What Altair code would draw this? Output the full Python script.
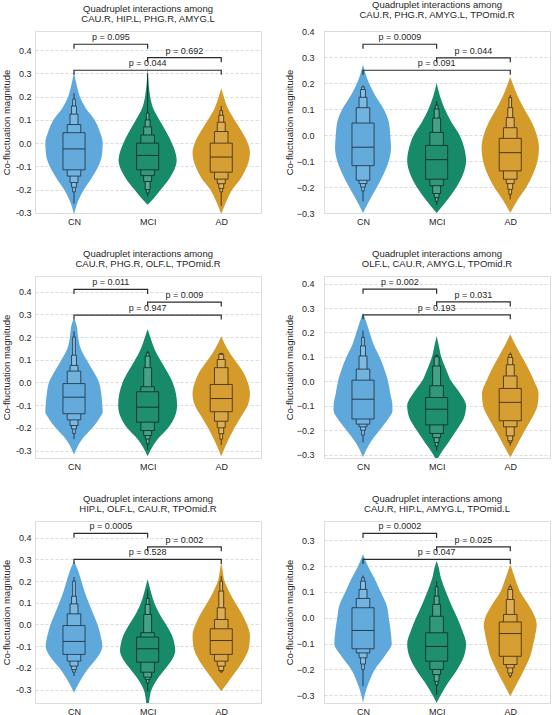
import altair as alt
import pandas as pd

GROUPS = ["CN", "MCI", "AD"]
COLORS = ["#5ea8db", "#178a69", "#d49a2a"]
LINE_COLORS = ["#223c4f", "#0e3328", "#4a3512"]

TITLES = [
    ["Quadruplet interactions among", "CAU.R, HIP.L, PHG.R, AMYG.L"],
    ["Quadruplet interactions among", "CAU.R, PHG.R, AMYG.L, TPOmid.R"],
    ["Quadruplet interactions among", "CAU.R, PHG.R, OLF.L, TPOmid.R"],
    ["Quadruplet interactions among", "OLF.L, CAU.R, AMYG.L, TPOmid.R"],
    ["Quadruplet interactions among", "HIP.L, OLF.L, CAU.R, TPOmid.R"],
    ["Quadruplet interactions among", "CAU.R, HIP.L, AMYG.L, TPOmid.L"],
]
P_VALUES = [
    ["0.095", "0.692", "0.044"],
    ["0.0009", "0.044", "0.091"],
    ["0.011", "0.009", "0.947"],
    ["0.002", "0.031", "0.193"],
    ["0.0005", "0.002", "0.528"],
    ["0.0002", "0.025", "0.047"],
]
PAIRS = [(0, 1), (1, 2), (0, 2)]
BRACKET_Y = [
    [0.426, 0.368, 0.314],
    [0.349, 0.297, 0.249],
    [0.410, 0.354, 0.297],
    [0.377, 0.325, 0.272],
    [0.420, 0.358, 0.300],
    [0.327, 0.275, 0.226],
]
Y_DOMAIN = [
    [-0.301, 0.483],
    [-0.300, 0.400],
    [-0.333, 0.469],
    [-0.3135, 0.431],
    [-0.362, 0.477],
    [-0.330, 0.375],
]

# violin outlines: value levels and half-widths (category units)
VIOLIN_Y = [
    [
        [-0.306, -0.25, -0.2, -0.15, -0.1, -0.05, 0.0, 0.05, 0.1, 0.15, 0.2, 0.25, 0.305],
        [-0.265, -0.235, -0.2, -0.15, -0.1, -0.075, -0.05, 0.0, 0.05, 0.1, 0.15, 0.2, 0.25, 0.33],
        [-0.305, -0.25, -0.2, -0.15, -0.1, -0.04, 0.0, 0.05, 0.1, 0.15, 0.2, 0.236],
    ],
    [
        [-0.3, -0.25, -0.2, -0.15, -0.1, -0.05, 0.0, 0.05, 0.1, 0.15, 0.2, 0.27],
        [-0.3, -0.25, -0.2, -0.15, -0.1, -0.05, 0.0, 0.05, 0.1, 0.15, 0.2],
        [-0.3, -0.25, -0.2, -0.15, -0.1, -0.05, 0.0, 0.05, 0.1, 0.15, 0.2, 0.223],
    ],
    [
        [-0.318, -0.25, -0.2, -0.15, -0.13, -0.1, -0.05, 0.0, 0.05, 0.1, 0.15, 0.2, 0.25, 0.285],
        [-0.325, -0.25, -0.2, -0.15, -0.1, -0.05, 0.0, 0.05, 0.1, 0.15, 0.2, 0.234],
        [-0.325, -0.25, -0.2, -0.15, -0.1, -0.05, 0.0, 0.05, 0.1, 0.15, 0.204],
    ],
    [
        [-0.31, -0.25, -0.2, -0.15, -0.12, -0.1, -0.05, 0.0, 0.05, 0.1, 0.15, 0.2, 0.25, 0.281],
        [-0.314, -0.3, -0.25, -0.2, -0.15, -0.1, -0.05, 0.0, 0.05, 0.1, 0.15, 0.186],
        [-0.31, -0.3, -0.25, -0.2, -0.15, -0.1, -0.05, 0.0, 0.05, 0.1, 0.15, 0.193],
    ],
    [
        [-0.315, -0.3, -0.25, -0.2, -0.15, -0.1, -0.05, 0.0, 0.05, 0.1, 0.15, 0.2, 0.25, 0.292],
        [-0.362, -0.3, -0.25, -0.2, -0.15, -0.12, -0.1, -0.05, 0.0, 0.05, 0.1, 0.15, 0.208],
        [-0.308, -0.3, -0.25, -0.2, -0.15, -0.1, -0.05, 0.0, 0.05, 0.1, 0.15, 0.2, 0.25, 0.285],
    ],
    [
        [-0.33, -0.3, -0.25, -0.2, -0.15, -0.1, -0.05, 0.0, 0.05, 0.1, 0.15, 0.2, 0.246],
        [-0.33, -0.3, -0.25, -0.2, -0.15, -0.1, -0.05, 0.0, 0.05, 0.1, 0.15, 0.2, 0.22],
        [-0.304, -0.25, -0.2, -0.15, -0.1, -0.05, -0.03, 0.0, 0.05, 0.1, 0.15, 0.207],
    ],
]
VIOLIN_W = [
    [
        [0, 0.055, 0.135, 0.24, 0.33, 0.38, 0.39, 0.35, 0.28, 0.16, 0.08, 0.036, 0],
        [0, 0.09, 0.18, 0.3, 0.38, 0.395, 0.385, 0.33, 0.25, 0.16, 0.075, 0.035, 0.015, 0],
        [0, 0.07, 0.15, 0.27, 0.35, 0.39, 0.36, 0.28, 0.18, 0.09, 0.035, 0],
    ],
    [
        [0, 0.09, 0.19, 0.28, 0.35, 0.38, 0.37, 0.35, 0.28, 0.17, 0.08, 0],
        [0, 0.145, 0.27, 0.36, 0.4, 0.375, 0.31, 0.2, 0.11, 0.045, 0],
        [0, 0.1, 0.22, 0.31, 0.37, 0.39, 0.36, 0.29, 0.19, 0.1, 0.03, 0],
    ],
    [
        [0, 0.11, 0.25, 0.36, 0.39, 0.385, 0.37, 0.34, 0.26, 0.17, 0.09, 0.055, 0.036, 0],
        [0, 0.135, 0.28, 0.37, 0.4, 0.385, 0.34, 0.26, 0.17, 0.09, 0.036, 0],
        [0, 0.1, 0.18, 0.27, 0.36, 0.39, 0.36, 0.29, 0.18, 0.08, 0],
    ],
    [
        [0, 0.1, 0.225, 0.35, 0.4, 0.4, 0.37, 0.34, 0.29, 0.225, 0.145, 0.09, 0.036, 0],
        [0.02, 0.045, 0.16, 0.27, 0.37, 0.4, 0.32, 0.2, 0.127, 0.063, 0.027, 0],
        [0, 0.02, 0.11, 0.2, 0.295, 0.37, 0.385, 0.325, 0.25, 0.16, 0.068, 0],
    ],
    [
        [0, 0.02, 0.1, 0.2, 0.32, 0.385, 0.36, 0.32, 0.26, 0.2, 0.145, 0.1, 0.054, 0],
        [0.02, 0.054, 0.135, 0.25, 0.35, 0.375, 0.37, 0.33, 0.25, 0.16, 0.09, 0.045, 0],
        [0, 0.018, 0.125, 0.235, 0.325, 0.38, 0.39, 0.35, 0.28, 0.19, 0.11, 0.045, 0.018, 0],
    ],
    [
        [0, 0.022, 0.08, 0.16, 0.29, 0.39, 0.375, 0.35, 0.32, 0.24, 0.16, 0.068, 0],
        [0, 0.054, 0.16, 0.28, 0.37, 0.4, 0.35, 0.28, 0.2, 0.127, 0.063, 0.023, 0],
        [0, 0.1, 0.19, 0.27, 0.315, 0.35, 0.36, 0.34, 0.25, 0.135, 0.068, 0],
    ],
]

# letter-value (boxen) statistics
MEDIANS = [
    [-0.025, -0.053, -0.060],
    [-0.047, -0.095, -0.068],
    [-0.065, -0.109, -0.071],
    [-0.073, -0.114, -0.086],
    [-0.078, -0.112, -0.074],
    [-0.049, -0.111, -0.061],
]
LV_LO = [
    [[-0.115, -0.142, -0.17, -0.19, -0.21], [-0.115, -0.14, -0.165, -0.2, -0.215], [-0.125, -0.155, -0.175, -0.195, -0.21]],
    [[-0.118, -0.174, -0.187, -0.2, -0.215], [-0.17, -0.195, -0.225, -0.24, -0.255], [-0.138, -0.17, -0.187, -0.209, -0.228]],
    [[-0.138, -0.165, -0.19, -0.205, -0.225], [-0.175, -0.212, -0.234, -0.249, -0.27], [-0.129, -0.171, -0.2, -0.226, -0.25]],
    [[-0.154, -0.175, -0.186, -0.2, -0.22], [-0.178, -0.213, -0.23, -0.25, -0.265], [-0.161, -0.186, -0.223, -0.243, -0.25]],
    [[-0.138, -0.169, -0.192, -0.208, -0.22], [-0.174, -0.22, -0.243, -0.254, -0.27], [-0.138, -0.169, -0.192, -0.212, -0.218]],
    [[-0.12, -0.136, -0.155, -0.179, -0.2], [-0.168, -0.2, -0.22, -0.246, -0.26], [-0.149, -0.181, -0.194, -0.214, -0.225]],
]
LV_HI = [
    [[0.045, 0.08, 0.125, 0.16, 0.19], [0.0, 0.035, 0.07, 0.1, 0.13], [0.0, 0.05, 0.09, 0.12, 0.14]],
    [[0.046, 0.105, 0.145, 0.175, 0.185], [-0.04, 0.01, 0.065, 0.1, 0.115], [-0.013, 0.028, 0.067, 0.105, 0.144]],
    [[-0.005, 0.05, 0.075, 0.12, 0.2], [-0.041, -0.019, 0.065, 0.116, 0.13], [-0.009, 0.065, 0.101, 0.124, 0.128]],
    [[0.005, 0.05, 0.104, 0.145, 0.18], [-0.066, -0.018, 0.063, 0.1, 0.105], [-0.029, 0.022, 0.068, 0.098, 0.11]],
    [[-0.005, 0.049, 0.095, 0.13, 0.2], [-0.058, -0.038, 0.046, 0.092, 0.12], [-0.02, 0.023, 0.077, 0.154, 0.2]],
    [[0.039, 0.075, 0.11, 0.142, 0.155], [-0.058, 0.006, 0.052, 0.084, 0.12], [-0.016, 0.013, 0.071, 0.11, 0.12]],
]
WHISK_LO = [
    [-0.26, -0.23, -0.27],
    [-0.255, -0.27, -0.247],
    [-0.25, -0.296, -0.276],
    [-0.25, -0.284, -0.263],
    [-0.238, -0.308, -0.223],
    [-0.265, -0.298, -0.233],
]
WHISK_HI = [
    [0.215, 0.30, 0.16],
    [0.19, 0.13, 0.154],
    [0.225, 0.138, 0.13],
    [0.207, 0.11, 0.118],
    [0.218, 0.162, 0.223],
    [0.164, 0.142, 0.129],
]

# ---- styling ----
FONT = "Liberation Sans"
TEXT_COLOR = "#262626"
PANEL_W = 226
PANEL_H = 182
X_DOMAIN = [-0.53, 2.54]
LEVEL_HW = [0.15, 0.092, 0.054, 0.033, 0.018]
LEVEL_LIGHT = [0.04, 0.12, 0.2, 0.28, 0.36]


def lighten(hex_color, f):
    h = hex_color.lstrip("#")
    r, g, b = (int(h[i:i + 2], 16) for i in (0, 2, 4))
    r = round(r + (255 - r) * f)
    g = round(g + (255 - g) * f)
    b = round(b + (255 - b) * f)
    return "#{:02x}{:02x}{:02x}".format(r, g, b)


def panel(i):
    ymin, ymax = Y_DOMAIN[i]
    left = (i % 2 == 0)
    xs = alt.Scale(domain=X_DOMAIN, nice=False, zero=False)
    ys = alt.Scale(domain=[ymin, ymax], nice=False, zero=False)
    ticks = [round(-0.3 + 0.1 * k, 1) for k in range(8)]
    ticks = [t for t in ticks if ymin - 1e-9 <= t <= ymax]
    label_expr = "replace(datum.label, '\u2212', '-')" if left else "datum.label"

    yaxis = alt.Axis(
        values=ticks, format=".1f", labelExpr=label_expr,
        grid=True, gridDash=[3, 2], gridColor="#d2d2d2", gridWidth=0.8,
        domain=False, ticks=False, labelPadding=4 if left else 10,
        labelFontSize=9, labelColor=TEXT_COLOR, labelFont=FONT,
        title="Co-fluctuation magnitude", titleFontSize=9.5,
        titleFontWeight="normal", titleColor=TEXT_COLOR, titleFont=FONT,
        titlePadding=4 if left else 2,
    )
    xaxis = alt.Axis(
        values=[0, 1, 2], labelExpr="['CN','MCI','AD'][datum.value]",
        grid=False, domain=True, domainColor="#dcdcdc", domainWidth=1,
        ticks=False, labelPadding=4, labelFontSize=9, labelColor=TEXT_COLOR,
        labelFont=FONT, title=None,
    )

    vrows, brows, wrows, mrows = [], [], [], []
    for g in range(3):
        for y, w in zip(VIOLIN_Y[i][g], VIOLIN_W[i][g]):
            vrows.append({"group": GROUPS[g], "vy": y, "xl": g - w, "xr": g + w})
        for lev in range(4, -1, -1):
            hw = LEVEL_HW[lev]
            brows.append({
                "group": GROUPS[g], "level": lev,
                "x1": g - hw, "x2": g + hw,
                "lo": LV_LO[i][g][lev], "hi": LV_HI[i][g][lev],
                "fill": lighten(COLORS[g], LEVEL_LIGHT[lev]),
                "line": LINE_COLORS[g],
            })
        wrows.append({"x": g, "lo": WHISK_LO[i][g], "hi": WHISK_HI[i][g], "line": LINE_COLORS[g]})
        mrows.append({"x1": g - LEVEL_HW[0], "x2": g + LEVEL_HW[0], "y": MEDIANS[i][g], "line": LINE_COLORS[g]})

    px_per_unit = PANEL_H / (ymax - ymin)
    tick = 4.5 / px_per_unit
    krows, trows = [], []
    for k, (a, b) in enumerate(PAIRS):
        yb = BRACKET_Y[i][k]
        pts = [(a, yb - tick), (a, yb), (b, yb), (b, yb - tick)]
        for j, (x, y) in enumerate(pts):
            krows.append({"br": k, "o": j, "x": x, "y": y})
        trows.append({"x": (a + b) / 2, "y": yb, "t": "p = " + P_VALUES[i][k]})

    vdf = pd.DataFrame(vrows)
    violin_layers = []
    for g in range(3):
        sub = vdf[vdf["group"] == GROUPS[g]]
        violin_layers.append(
            alt.Chart(sub).mark_area(
                orient="horizontal", interpolate="monotone", color=COLORS[g]
            ).encode(
                y=alt.Y("vy:Q", scale=ys, axis=yaxis),
                x=alt.X("xl:Q", scale=xs, axis=xaxis),
                x2="xr:Q",
            )
        )
    whisk = alt.Chart(pd.DataFrame(wrows)).mark_rule(strokeWidth=1).encode(
        x=alt.X("x:Q", scale=xs, axis=xaxis),
        y=alt.Y("lo:Q", scale=ys, axis=yaxis),
        y2="hi:Q",
        stroke=alt.Stroke("line:N", scale=None),
    )
    boxes = alt.Chart(pd.DataFrame(brows)).mark_rect(strokeWidth=0.9).encode(
        x=alt.X("x1:Q", scale=xs, axis=xaxis),
        x2="x2:Q",
        y=alt.Y("lo:Q", scale=ys, axis=yaxis),
        y2="hi:Q",
        fill=alt.Fill("fill:N", scale=None),
        stroke=alt.Stroke("line:N", scale=None),
    )
    medians = alt.Chart(pd.DataFrame(mrows)).mark_rule(strokeWidth=1).encode(
        x=alt.X("x1:Q", scale=xs, axis=xaxis),
        x2="x2:Q",
        y=alt.Y("y:Q", scale=ys, axis=yaxis),
        stroke=alt.Stroke("line:N", scale=None),
    )
    brackets = alt.Chart(pd.DataFrame(krows)).mark_line(
        color="#2b2b2b", strokeWidth=1.2
    ).encode(
        x=alt.X("x:Q", scale=xs, axis=xaxis),
        y=alt.Y("y:Q", scale=ys, axis=yaxis),
        detail="br:N",
        order="o:Q",
    )
    ptext = alt.Chart(pd.DataFrame(trows)).mark_text(
        baseline="bottom", dy=-2, fontSize=9, font=FONT, color=TEXT_COLOR
    ).encode(
        x=alt.X("x:Q", scale=xs, axis=xaxis),
        y=alt.Y("y:Q", scale=ys, axis=yaxis),
        text="t:N",
    )
    return alt.layer(*violin_layers, whisk, boxes, medians, brackets, ptext).properties(
        width=PANEL_W, height=PANEL_H,
        title=alt.TitleParams(
            text=TITLES[i], fontSize=9.5, font=FONT, fontWeight="normal",
            color=TEXT_COLOR, anchor="middle", frame="group", offset=7.5, lineHeight=10,
        ),
    )


chart = alt.concat(
    *[panel(i) for i in range(6)], columns=2, spacing=63, bounds="flush"
).properties(
    padding={"left": 0, "top": -1, "right": 0, "bottom": 0}
).configure_view(strokeWidth=0).configure(background="white")

chart.save("out.html", embed_options={"renderer": "svg", "actions": False})
